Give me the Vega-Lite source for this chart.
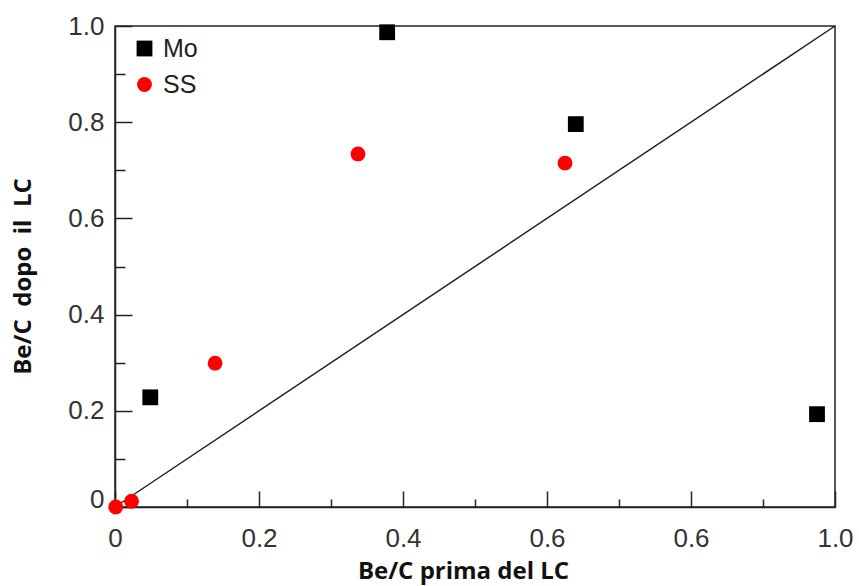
{
  "$schema": "https://vega.github.io/schema/vega-lite/v6.json",
  "width": 720,
  "height": 481,
  "autosize": "none",
  "padding": {"left": 115, "top": 26, "right": 24, "bottom": 79},
  "background": "white",
  "config": {
    "view": {"stroke": "#222", "strokeWidth": 1.5},
    "axis": {
      "domainColor": "#222",
      "domainWidth": 1.5,
      "tickColor": "#222",
      "tickWidth": 1.5,
      "grid": false,
      "labelFont": "Liberation Sans",
      "labelFontSize": 26,
      "labelColor": "#333",
      "labelFlush": false,
      "labelOverlap": false,
      "titleFont": "Open Sans",
      "titleFontWeight": "bold",
      "titleFontSize": 24,
      "titleColor": "#111"
    },
    "legend": {
      "orient": "none",
      "legendX": 17,
      "legendY": 10,
      "padding": 0,
      "labelFont": "Liberation Sans",
      "labelFontSize": 25,
      "labelColor": "#222",
      "rowPadding": 10,
      "symbolOpacity": 1,
      "labelOffset": 6
    }
  },
  "layer": [
    {
      "data": {"values": [{"px": 0, "py": 0}, {"px": 1, "py": 1}]},
      "mark": {"type": "line", "color": "#222", "strokeWidth": 1.5},
      "encoding": {
        "x": {"field": "px", "type": "quantitative", "scale": {"domain": [0, 1], "nice": false, "zero": false},
          "axis": {
            "title": "Be/C prima del LC",
            "values": [0, 0.1, 0.2, 0.3, 0.4, 0.5, 0.6, 0.7, 0.8, 0.9, 1.0],
            "tickSize": {"condition": {"test": "round(datum.value*10) % 2 == 0", "value": -16}, "value": -8},
            "labelPadding": 34,
            "labelExpr": "round(datum.value*10) % 2 != 0 ? '' : (datum.value == 0 ? '0' : (round(datum.value*10) == 8 ? '0.6' : format(datum.value, '.1f')))",
            "titleX": 348,
            "titleY": 71,
            "titleBaseline": "alphabetic",
            "titleAlign": "center",
            "titleAnchor": "start"
          }
        },
        "y": {"field": "py", "type": "quantitative", "scale": {"domain": [0, 1], "nice": false, "zero": false},
          "axis": {
            "title": "Be/C\u00a0 dopo\u00a0 il\u00a0 LC",
            "values": [0, 0.1, 0.2, 0.3, 0.4, 0.5, 0.6, 0.7, 0.8, 0.9, 1.0],
            "tickSize": {"condition": {"test": "round(datum.value*10) % 2 == 0", "value": -17}, "value": -10},
            "labelPadding": 28,
            "labelOffset": {"condition": {"test": "datum.value == 0", "value": -8}, "value": 0},
            "labelExpr": "round(datum.value*10) % 2 != 0 ? '' : (datum.value == 0 ? '0' : format(datum.value, '.1f'))",
            "titleX": -92,
            "titleY": 250,
            "titleBaseline": "middle",
            "titleAlign": "center",
            "titleAnchor": "start"
          }
        }
      }
    },
    {
      "data": {"values": [
        {"series": "Mo", "before": 0.049, "after": 0.228},
        {"series": "Mo", "before": 0.378, "after": 0.987},
        {"series": "Mo", "before": 0.640, "after": 0.796},
        {"series": "Mo", "before": 0.975, "after": 0.193},
        {"series": "SS", "before": 0.001, "after": 0.0},
        {"series": "SS", "before": 0.023, "after": 0.012},
        {"series": "SS", "before": 0.139, "after": 0.299},
        {"series": "SS", "before": 0.3375, "after": 0.734},
        {"series": "SS", "before": 0.625, "after": 0.715}
      ]},
      "mark": {"type": "point", "filled": true, "opacity": 1},
      "encoding": {
        "x": {"field": "before", "type": "quantitative"},
        "y": {"field": "after", "type": "quantitative"},
        "shape": {"field": "series", "type": "nominal", "scale": {"domain": ["Mo", "SS"], "range": ["square", "circle"]}, "legend": {"title": null}},
        "color": {"field": "series", "type": "nominal", "scale": {"domain": ["Mo", "SS"], "range": ["#000000", "#ff0000"]}, "legend": {"title": null}},
        "size": {"field": "series", "type": "nominal", "scale": {"domain": ["Mo", "SS"], "range": [250, 220]}, "legend": {"title": null}}
      }
    }
  ]
}
